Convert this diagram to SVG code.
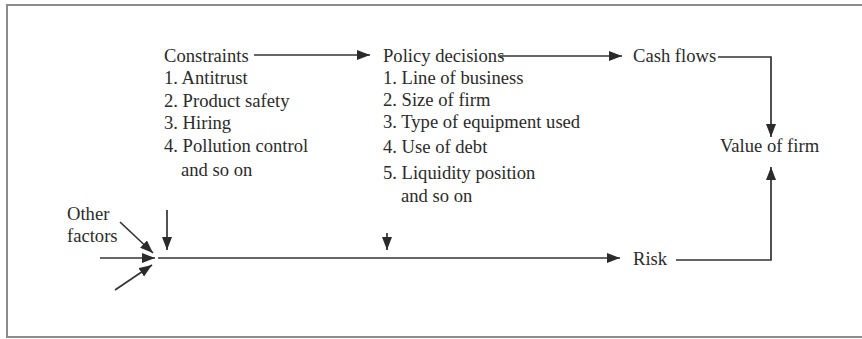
<svg xmlns="http://www.w3.org/2000/svg" width="862" height="339" viewBox="0 0 862 339">
<style>
text{font-family:"Liberation Serif","Times New Roman",serif;font-size:18.6px;fill:#2b2b2b}
.c{fill:none;stroke:#333;stroke-width:1.7}
.frame{fill:none;stroke:#8c8c8c;stroke-width:2}
</style>
<defs>
<marker id="ah" markerUnits="userSpaceOnUse" markerWidth="14" markerHeight="11" refX="13" refY="5" orient="auto">
<path d="M0,0 L13,5 L0,10 z" fill="#2b2b2b"/>
</marker>
</defs>
<rect width="862" height="339" fill="#fff"/>
<path class="frame" d="M862,5 H7 V337 H862"/>
<g id="constraints">
<text x="164" y="62">Constraints</text>
<text x="164" y="84">1. Antitrust</text>
<text x="164" y="107">2. Product safety</text>
<text x="164" y="129">3. Hiring</text>
<text x="164" y="152">4. Pollution control</text>
<text x="181" y="176">and so on</text>
</g>
<g id="policy">
<text x="383" y="62">Policy decisions</text>
<text x="383" y="84">1. Line of business</text>
<text x="383" y="106">2. Size of firm</text>
<text x="383" y="128">3. Type of equipment used</text>
<text x="383" y="153">4. Use of debt</text>
<text x="383" y="179">5. Liquidity position</text>
<text x="401" y="202">and so on</text>
</g>
<g id="cashflows"><text x="633" y="62">Cash flows</text></g>
<g id="value"><text x="720" y="152">Value of firm</text></g>
<g id="risk"><text x="633" y="265">Risk</text></g>
<g id="other"><text x="67" y="220">Other</text><text x="67" y="242">factors</text></g>
<g id="connectors">
<path class="c" d="M254,55 H370" marker-end="url(#ah)"/>
<path class="c" d="M500,56 H622" marker-end="url(#ah)"/>
<path class="c" d="M718,57 H771 V137" marker-end="url(#ah)"/>
<path class="c" d="M676,260 H771 V167" marker-end="url(#ah)"/>
<path class="c" d="M158,258 H620" marker-end="url(#ah)"/>
<path class="c" d="M100,258 H155" marker-end="url(#ah)"/>
<path class="c" d="M120,222 L153,253" marker-end="url(#ah)"/>
<path class="c" d="M115,290 L152,265" marker-end="url(#ah)"/>
<path class="c" d="M167,210 V250" marker-end="url(#ah)"/>
<path class="c" d="M387,233 V250" marker-end="url(#ah)"/>
</g>
</svg>
